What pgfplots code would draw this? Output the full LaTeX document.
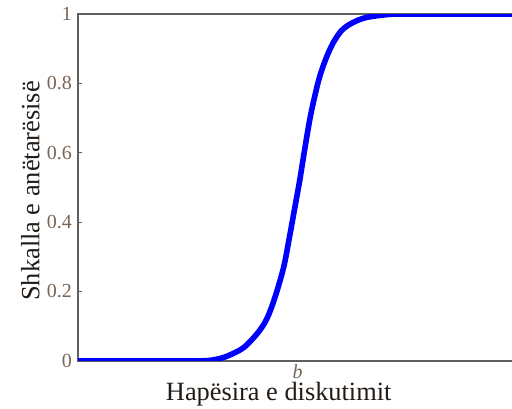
\documentclass[border=0pt]{standalone}
\usepackage{fontspec}
\setmainfont{Liberation Serif}
\usepackage{pgfplots}
\pgfplotsset{compat=1.18}
\definecolor{tickc}{RGB}{120,100,85}
\definecolor{labc}{RGB}{35,28,22}
\definecolor{axc}{RGB}{95,95,95}
\begin{document}
\begin{tikzpicture}
\begin{axis}[
  name=ax,
  scale only axis,
  width=217bp, height=173bp,
  xmin=0, xmax=434, ymin=0, ymax=1,
  axis line style={axc, line width=1.1bp},
  xtick={219}, xticklabels={\textit{b}},
  major x tick style={draw=none},
  ytick={0,0.2,0.4,0.6,0.8,1},
  yticklabels={0,0.2,0.4,0.6,0.8,1},
  ytick pos=left,
  tick align=inside,
  major tick length=2bp,
  major y tick style={axc, line width=0.6bp},
  /pgf/number format/assume math mode=true,
  tick label style={font=\fontsize{10}{12}\selectfont, text=tickc},
  yticklabel style={inner sep=0pt, anchor=east, xshift=-3bp},
  xticklabel style={inner sep=0pt, anchor=north, yshift=-1.8bp},
  xlabel={Hapësira e diskutimit},
  ylabel={Shkalla e anëtarësisë},
  label style={font=\fontsize{13.2}{15}\selectfont, text=labc, inner sep=0pt},
  xlabel style={at={(axis description cs:0.461,-0.06)}, anchor=north},
  ylabel style={at={(axis description cs:-0.0876,0.49)}, anchor=south, rotate=0},
]
\addplot[blue, line width=2.8bp, smooth, tension=0.5] coordinates {
(0,0) (60,0) (122,0) (137,0.004) (149,0.014) (165,0.038) (179,0.08) (188,0.12)
(196,0.18) (205,0.27) (211,0.36) (216,0.44) (221,0.52) (226,0.61) (232,0.71)
(240,0.81) (247,0.87) (254,0.915) (262,0.95) (269,0.967) (279,0.982) (289,0.991)
(307,0.998) (322,1) (380,1) (434,1)
};
\end{axis}
\pgfresetboundingbox
\useasboundingbox ([xshift=-39bp,yshift=-24bp]ax.south west) rectangle ([xshift=-0.6bp,yshift=7bp]ax.north east);
\end{tikzpicture}
\end{document}
